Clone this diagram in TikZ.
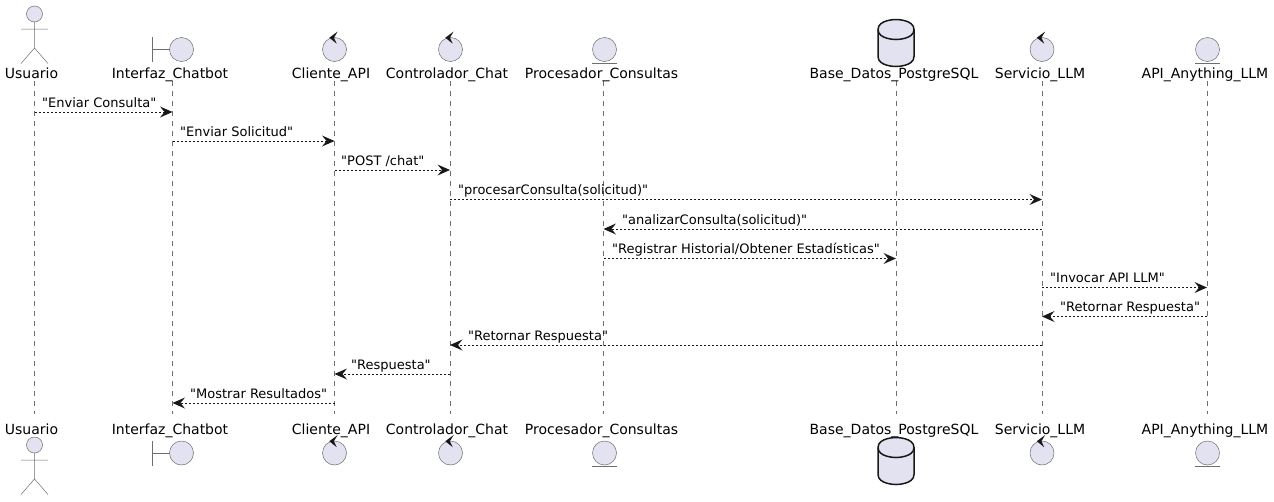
\documentclass[tikz,border=0pt]{standalone}
\usepackage{fontspec}
\setmainfont{DejaVu Sans}[Ligatures=TeXOff]
\usetikzlibrary{arrows.meta}
\definecolor{pfill}{HTML}{E2E2F0}
\definecolor{pline}{HTML}{181818}
\definecolor{pthin}{HTML}{6E6E6E}
\tikzset{
  pname/.style={inner sep=0pt,anchor=base,font=\fontsize{14}{16}\selectfont,text=black},
  lifeline/.style={draw=pthin,line width=0.5pt,dash pattern=on 5pt off 5pt},
  msg/.style={draw=pline,line width=0.6pt,dash pattern=on 2pt off 2pt,-{Stealth[length=12.5pt,width=11pt,inset=4.5pt,fill=pline,line width=0pt]}},
  mlabel/.style={inner sep=0pt,anchor=base west,font=\fontsize{13}{15}\selectfont,text=black},
  shp/.style={draw=pthin,line width=0.5pt,fill=pfill},
  stroke/.style={draw=pthin,line width=0.5pt},
}
\newcommand{\ActorIcon}[2]{% x, head y
  \draw[shp] (#1,#2) circle[radius=8];
  \draw[stroke] (#1,#2+8) -- (#1,#2+34) (#1-13.5,#2+15) -- (#1+13.5,#2+15)
    (#1-13.5,#2+49.5) -- (#1,#2+34) -- (#1+13.5,#2+49.5);
}
\newcommand{\BoundaryIcon}[2]{% left x, y centre
  \draw[stroke] (#1,#2-12.5) -- (#1,#2+12.5) (#1,#2) -- (#1+17,#2);
  \draw[shp] (#1+29,#2) circle[radius=12];
}
\newcommand{\ControlIcon}[2]{%
  \draw[shp] (#1,#2) circle[radius=12];
  \fill[pline] (#1+3.2,#2-18) -- (#1-5.2,#2-11.8) -- (#1+2.2,#2-5.8) -- (#1-0.6,#2-11.8) -- cycle;
}
\newcommand{\EntityIcon}[2]{%
  \draw[shp] (#1,#2) circle[radius=12];
  \draw[stroke] (#1-12.5,#2+13.5) -- (#1+12.5,#2+13.5);
}
\newcommand{\DbIcon}[2]{% centre x, top y
  \draw[draw=pline,line width=1.5pt,fill=pfill] (#1-18,#2+10)
    .. controls (#1-18,#2) and (#1,#2) .. (#1,#2)
    .. controls (#1,#2) and (#1+18,#2) .. (#1+18,#2+10)
    -- (#1+18,#2+37) .. controls (#1+18,#2+47) and (#1,#2+47) .. (#1,#2+47)
    .. controls (#1,#2+47) and (#1-18,#2+47) .. (#1-18,#2+37) -- cycle;
  \draw[draw=pline,line width=1.5pt] (#1-18,#2+10)
    .. controls (#1-18,#2+20) and (#1,#2+20) .. (#1,#2+20)
    .. controls (#1,#2+20) and (#1+18,#2+20) .. (#1+18,#2+10);
}
\begin{document}
\begin{tikzpicture}[x=1pt,y=-1pt]
\useasboundingbox (0,0) rectangle (1274,501);
% lifeline ends
\foreach \n/\x in {u/34.5,i/172.5,c/334.5,k/450,p/603.5,b/896,s/1042,a/1207}{
  \coordinate (\n T) at (\x,81);
  \coordinate (\n B) at (\x,414);
  \draw[lifeline] (\n T) -- (\n B);
}
% top names
\node[pname] (uN) at (31.5,78) {Usuario};
\node[pname] (iN) at (170,78) {Interfaz\_Chatbot};
\node[pname] (cN) at (331,78) {Cliente\_API};
\node[pname] (kN) at (447,78) {Controlador\_Chat};
\node[pname] (pN) at (601.5,78) {Procesador\_Consultas};
\node[pname] (bN) at (894,78) {Base\_Datos\_PostgreSQL};
\node[pname] (sN) at (1040,78) {Servicio\_LLM};
\node[pname] (aN) at (1205,78) {API\_Anything\_LLM};
% bottom names
\node[pname] (uM) at (31.5,434) {Usuario};
\node[pname] (iM) at (170,434) {Interfaz\_Chatbot};
\node[pname] (cM) at (331,434) {Cliente\_API};
\node[pname] (kM) at (447,434) {Controlador\_Chat};
\node[pname] (pM) at (601.5,434) {Procesador\_Consultas};
\node[pname] (bM) at (894,434) {Base\_Datos\_PostgreSQL};
\node[pname] (sM) at (1040,434) {Servicio\_LLM};
\node[pname] (aM) at (1205,434) {API\_Anything\_LLM};
% top icons
\ActorIcon{34.5}{14}
\BoundaryIcon{152.5}{49.5}
\ControlIcon{334.5}{49.5}
\ControlIcon{450.5}{49.5}
\EntityIcon{604.5}{49.5}
\DbIcon{896}{19.5}
\ControlIcon{1042}{49.5}
\EntityIcon{1207.5}{49.5}
% bottom icons
\ActorIcon{34.5}{445}
\BoundaryIcon{152.5}{453}
\ControlIcon{334.5}{453}
\ControlIcon{450.5}{453}
\EntityIcon{604.5}{453}
\DbIcon{896}{437.5}
\ControlIcon{1042}{453}
\EntityIcon{1207.5}{453}
% messages
\foreach \m/\y in {1/112,2/141,3/170,4/199.5,5/229,6/258.5,7/287.5,8/316.5,9/345,10/374,11/403}
  \coordinate (m\m) at (0,\y);
\draw[msg] (uT |- m1) -- (iT |- m1);
\draw[msg] (iT |- m2) -- (cT |- m2);
\draw[msg] (cT |- m3) -- (kT |- m3);
\draw[msg] (kT |- m4) -- (sT |- m4);
\draw[msg] (sT |- m5) -- (pT |- m5);
\draw[msg] (pT |- m6) -- (bT |- m6);
\draw[msg] (sT |- m7) -- (aT |- m7);
\draw[msg] (aT |- m8) -- (sT |- m8);
\draw[msg] (sT |- m9) -- (kT |- m9);
\draw[msg] (kT |- m10) -- (cT |- m10);
\draw[msg] (cT |- m11) -- (iT |- m11);
% labels
\node[mlabel] (l1) at (42,107) {"Enviar Consulta"};
\node[mlabel] (l2) at (180,136) {"Enviar Solicitud"};
\node[mlabel] (l3) at (341,165) {"POST /chat"};
\node[mlabel] (l4) at (458,194.5) {"procesarConsulta(solicitud)"};
\node[mlabel] (l5) at (622,224) {"analizarConsulta(solicitud)"};
\node[mlabel] (l6) at (612,253.5) {"Registrar Historial/Obtener Estadísticas"};
\node[mlabel] (l7) at (1050,282.5) {"Invocar API LLM"};
\node[mlabel] (l8) at (1060,311.5) {"Retornar Respuesta"};
\node[mlabel] (l9) at (468,340) {"Retornar Respuesta"};
\node[mlabel] (l10) at (351,369) {"Respuesta"};
\node[mlabel] (l11) at (190,398) {"Mostrar Resultados"};
\end{tikzpicture}
\end{document}
